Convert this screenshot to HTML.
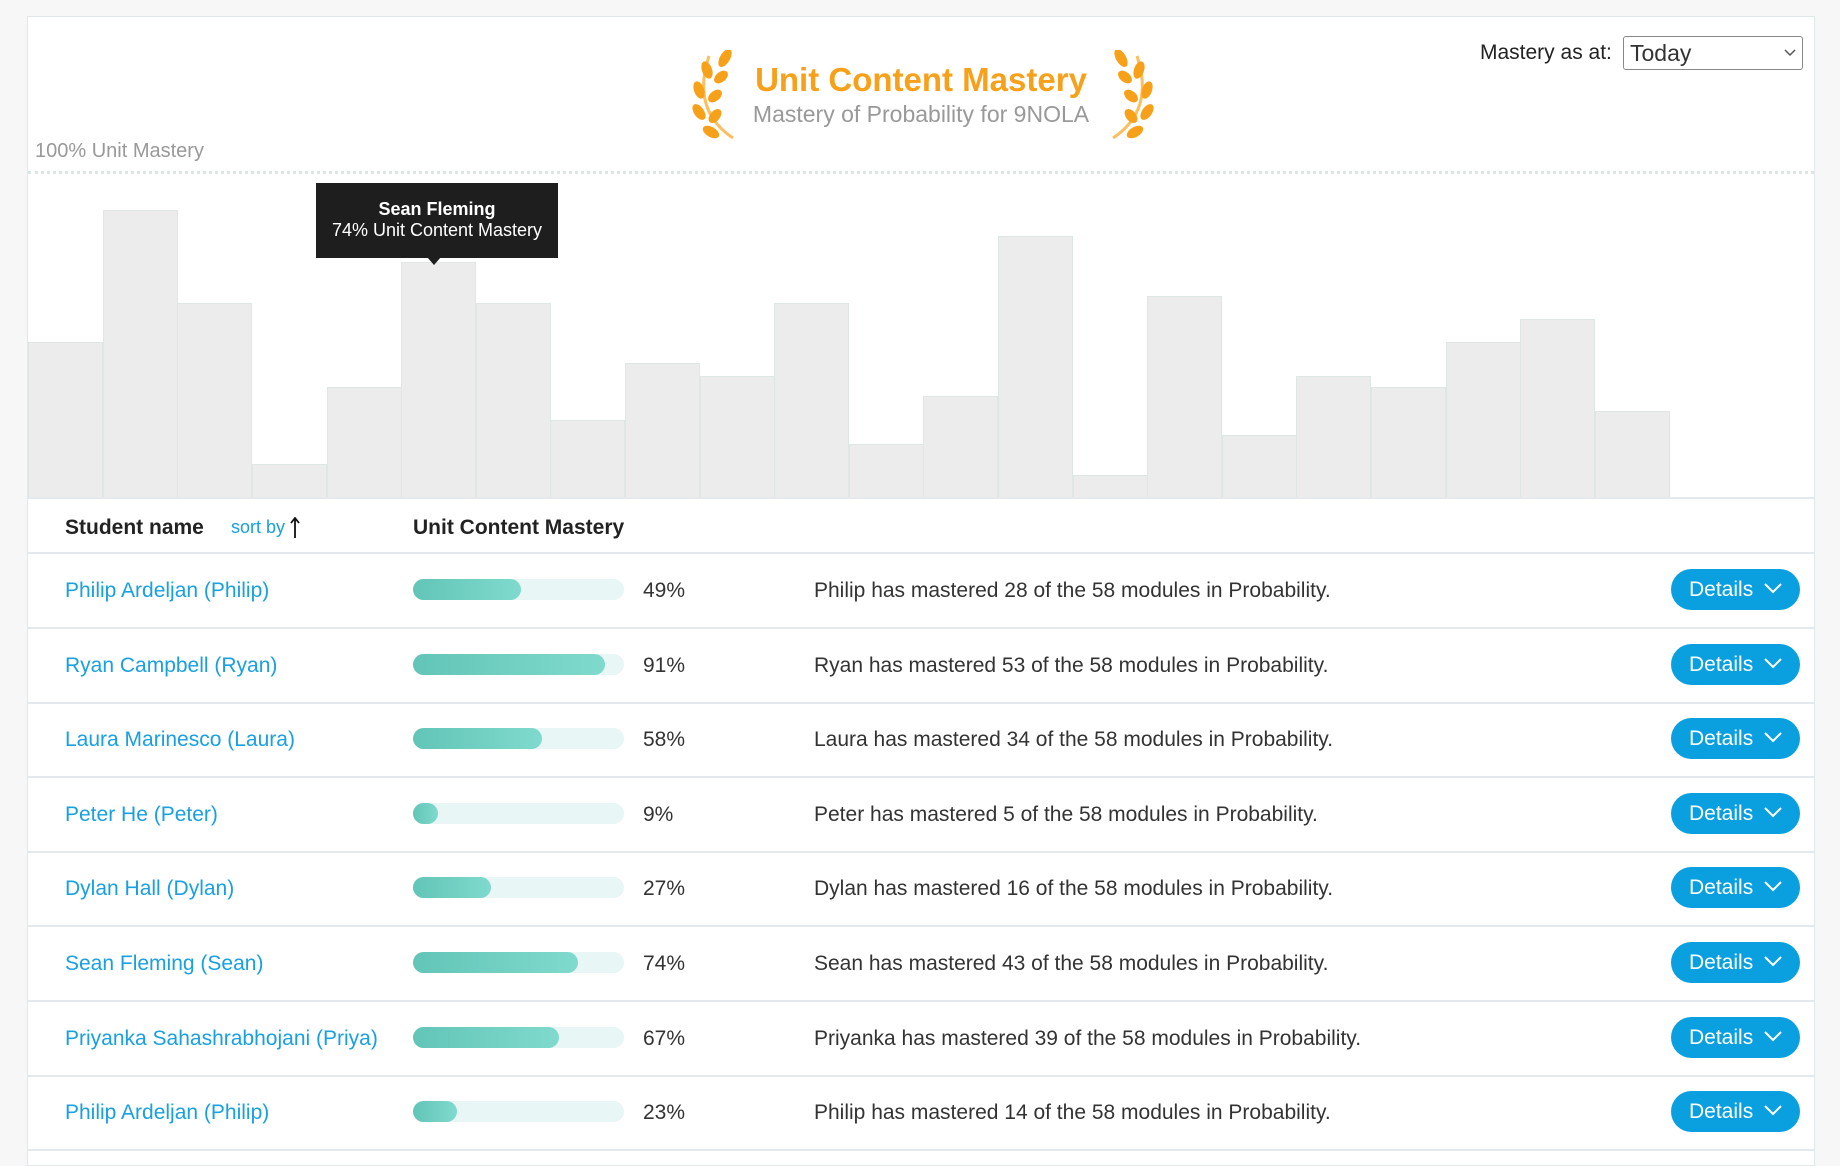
<!DOCTYPE html>
<html><head><meta charset="utf-8"><style>
*{margin:0;padding:0;box-sizing:border-box}
body{width:1840px;height:1150px;background:#f7f7f7;font-family:"Liberation Sans",sans-serif;position:relative;overflow:hidden}
.c{position:absolute;left:27px;top:16px;width:1788px;height:1150px;background:#fff;border:1px solid #e1e8ea}
.a{position:absolute;white-space:nowrap}
.bar{position:absolute;bottom:0;width:75px;background:#ececec;border:1px solid #dfe6e6;border-bottom:none}
.row{position:absolute;left:0;width:1786px;height:75px;border-bottom:2px solid #e3e9ec}
.name{position:absolute;left:37px;top:25px;color:#18a0e0;font-size:21px}
.trk{position:absolute;left:385px;top:25px;width:211px;height:21px;border-radius:11px;background:#e8f6f5}
.fill{height:21px;border-radius:11px;background:linear-gradient(90deg,#62c5b7,#7fdacd)}
.pct{position:absolute;left:615px;top:25px;font-size:21px;color:#333}
.desc{position:absolute;left:786px;top:25px;font-size:21px;color:#333}
.btn{position:absolute;left:1643px;top:15px;width:129px;height:41px;border-radius:21px;background:#0aa0e0;color:#fff;font-size:21px;padding:9px 0 0 18px}
.btn svg{position:absolute;right:18px;top:14px}
</style></head><body>
<div class="c">
<svg class="a" style="left:659px;top:33px" width="480" height="90" viewBox="0 0 480 90">
<g fill="#f7a01a">
<path d="M46 88 Q4 60 22 6" stroke="#fbbf5e" stroke-width="3" fill="none"/>
<ellipse cx="38" cy="8" rx="5" ry="10" transform="rotate(30 38 8)"/><ellipse cx="20" cy="20" rx="5" ry="9" transform="rotate(-20 20 20)"/><ellipse cx="34" cy="27" rx="5" ry="8" transform="rotate(50 34 27)"/><ellipse cx="12" cy="40" rx="5" ry="9" transform="rotate(-20 12 40)"/><ellipse cx="28" cy="46" rx="5" ry="8" transform="rotate(50 28 46)"/><ellipse cx="12" cy="62" rx="5" ry="9" transform="rotate(-35 12 62)"/><ellipse cx="28" cy="66" rx="5" ry="8" transform="rotate(40 28 66)"/><ellipse cx="24" cy="82" rx="5" ry="9" transform="rotate(-60 24 82)"/>
<g transform="translate(472 0) scale(-1 1)">
<path d="M46 88 Q4 60 22 6" stroke="#fbbf5e" stroke-width="3" fill="none"/>
<ellipse cx="38" cy="8" rx="5" ry="10" transform="rotate(30 38 8)"/><ellipse cx="20" cy="20" rx="5" ry="9" transform="rotate(-20 20 20)"/><ellipse cx="34" cy="27" rx="5" ry="8" transform="rotate(50 34 27)"/><ellipse cx="12" cy="40" rx="5" ry="9" transform="rotate(-20 12 40)"/><ellipse cx="28" cy="46" rx="5" ry="8" transform="rotate(50 28 46)"/><ellipse cx="12" cy="62" rx="5" ry="9" transform="rotate(-35 12 62)"/><ellipse cx="28" cy="66" rx="5" ry="8" transform="rotate(40 28 66)"/><ellipse cx="24" cy="82" rx="5" ry="9" transform="rotate(-60 24 82)"/>
</g></g></svg>
<div class="a" style="left:0;width:1786px;text-align:center;top:44px;font-size:33px;font-weight:bold;color:#f7a01a">Unit Content Mastery</div>
<div class="a" style="left:0;width:1786px;text-align:center;top:84px;font-size:23px;color:#999">Mastery of Probability for 9NOLA</div>
<div class="a" style="left:1452px;top:24px;font-size:21px;color:#222">Mastery as at:</div>
<div class="a" style="left:1595px;top:19px;width:180px;height:34px;border:1px solid #888;border-radius:3px;font-size:23px;color:#333;padding:3px 0 0 6px">Today
<svg style="position:absolute;right:6px;top:12px" width="12" height="8"><path d="M1 1 L6 6 L11 1" stroke="#555" fill="none" stroke-width="1.5"/></svg></div>
<div class="a" style="left:7px;top:123px;font-size:20px;color:#999">100% Unit Mastery</div>
<div class="a" style="left:0;top:154px;width:1786px;border-top:3px dotted #dde5e7"></div>
<div class="a" style="left:0;top:150px;width:1786px;height:332px;border-bottom:2px solid #e3e9ec">
<div class="bar" style="left:0;height:155px"></div>
<div class="bar" style="left:75px;height:287px"></div>
<div class="bar" style="left:149px;height:194px"></div>
<div class="bar" style="left:224px;height:33px"></div>
<div class="bar" style="left:299px;height:110px"></div>
<div class="bar" style="left:373px;height:235px"></div>
<div class="bar" style="left:448px;height:194px"></div>
<div class="bar" style="left:522px;height:77px"></div>
<div class="bar" style="left:597px;height:134px"></div>
<div class="bar" style="left:672px;height:121px"></div>
<div class="bar" style="left:746px;height:194px"></div>
<div class="bar" style="left:821px;height:53px"></div>
<div class="bar" style="left:895px;height:101px"></div>
<div class="bar" style="left:970px;height:261px"></div>
<div class="bar" style="left:1045px;height:22px"></div>
<div class="bar" style="left:1119px;height:201px"></div>
<div class="bar" style="left:1194px;height:62px"></div>
<div class="bar" style="left:1268px;height:121px"></div>
<div class="bar" style="left:1343px;height:110px"></div>
<div class="bar" style="left:1418px;height:155px"></div>
<div class="bar" style="left:1492px;height:178px"></div>
<div class="bar" style="left:1567px;height:86px"></div>
</div>
<div class="a" style="left:288px;top:166px;width:242px;height:75px;background:#1e1e1e;color:#fff;text-align:center;font-size:18px;padding-top:16px;line-height:21px"><b>Sean Fleming</b><br>74% Unit Content Mastery</div>
<div class="a" style="left:399px;top:240px;width:0;height:0;border-left:7px solid transparent;border-right:7px solid transparent;border-top:8px solid #1e1e1e"></div>
<div class="a" style="left:37px;top:499px;font-size:21px;font-weight:bold;color:#222">Student name</div>
<div class="a" style="left:203px;top:500px;font-size:18px;color:#18a0e0">sort by</div>
<svg class="a" style="left:262px;top:500px" width="10" height="22"><path d="M5 21 V2 M1 6 L5 1 L9 6" stroke="#111" stroke-width="1.8" fill="none"/></svg>
<div class="a" style="left:385px;top:499px;font-size:21px;font-weight:bold;color:#222">Unit Content Mastery</div>
<div class="a" style="left:0;top:535px;width:1786px;border-top:2px solid #e3e9ec"></div>
<div class="a" style="left:0;top:537px">
<div class="row" style="top:0"><div class="name">Philip Ardeljan (Philip)</div><div class="trk"><div class="fill" style="width:51%"></div></div><div class="pct">49%</div><div class="desc">Philip has mastered 28 of the 58 modules in Probability.</div><div class="btn">Details<svg width="18" height="11"><path d="M1 1 L9 9 L17 1" stroke="#fff" stroke-width="2" fill="none"/></svg></div></div>
<div class="row" style="top:74.6px"><div class="name">Ryan Campbell (Ryan)</div><div class="trk"><div class="fill" style="width:91%"></div></div><div class="pct">91%</div><div class="desc">Ryan has mastered 53 of the 58 modules in Probability.</div><div class="btn">Details<svg width="18" height="11"><path d="M1 1 L9 9 L17 1" stroke="#fff" stroke-width="2" fill="none"/></svg></div></div>
<div class="row" style="top:149.2px"><div class="name">Laura Marinesco (Laura)</div><div class="trk"><div class="fill" style="width:61%"></div></div><div class="pct">58%</div><div class="desc">Laura has mastered 34 of the 58 modules in Probability.</div><div class="btn">Details<svg width="18" height="11"><path d="M1 1 L9 9 L17 1" stroke="#fff" stroke-width="2" fill="none"/></svg></div></div>
<div class="row" style="top:223.8px"><div class="name">Peter He (Peter)</div><div class="trk"><div class="fill" style="width:12%"></div></div><div class="pct">9%</div><div class="desc">Peter has mastered 5 of the 58 modules in Probability.</div><div class="btn">Details<svg width="18" height="11"><path d="M1 1 L9 9 L17 1" stroke="#fff" stroke-width="2" fill="none"/></svg></div></div>
<div class="row" style="top:298.4px"><div class="name">Dylan Hall (Dylan)</div><div class="trk"><div class="fill" style="width:37%"></div></div><div class="pct">27%</div><div class="desc">Dylan has mastered 16 of the 58 modules in Probability.</div><div class="btn">Details<svg width="18" height="11"><path d="M1 1 L9 9 L17 1" stroke="#fff" stroke-width="2" fill="none"/></svg></div></div>
<div class="row" style="top:373px"><div class="name">Sean Fleming (Sean)</div><div class="trk"><div class="fill" style="width:78%"></div></div><div class="pct">74%</div><div class="desc">Sean has mastered 43 of the 58 modules in Probability.</div><div class="btn">Details<svg width="18" height="11"><path d="M1 1 L9 9 L17 1" stroke="#fff" stroke-width="2" fill="none"/></svg></div></div>
<div class="row" style="top:447.6px"><div class="name">Priyanka Sahashrabhojani (Priya)</div><div class="trk"><div class="fill" style="width:69%"></div></div><div class="pct">67%</div><div class="desc">Priyanka has mastered 39 of the 58 modules in Probability.</div><div class="btn">Details<svg width="18" height="11"><path d="M1 1 L9 9 L17 1" stroke="#fff" stroke-width="2" fill="none"/></svg></div></div>
<div class="row" style="top:522.2px"><div class="name">Philip Ardeljan (Philip)</div><div class="trk"><div class="fill" style="width:21%"></div></div><div class="pct">23%</div><div class="desc">Philip has mastered 14 of the 58 modules in Probability.</div><div class="btn">Details<svg width="18" height="11"><path d="M1 1 L9 9 L17 1" stroke="#fff" stroke-width="2" fill="none"/></svg></div></div>
</div>
</div>
</body></html>
